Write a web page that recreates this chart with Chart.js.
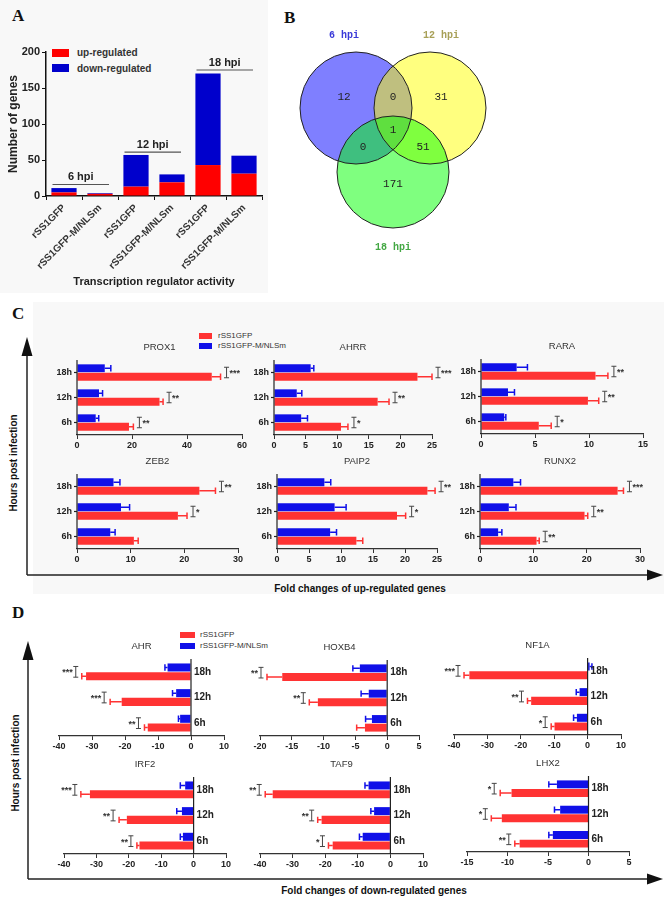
<!DOCTYPE html>
<html>
<head>
<meta charset="utf-8">
<script src="https://cdn.jsdelivr.net/npm/chart.js"></script>
<style>
body { margin: 0; background: #fff; }
#page { position: relative; width: 667px; height: 897px; overflow: hidden; font-family: "Liberation Sans", Arial, sans-serif; }
.abs { position: absolute; }
canvas { position: absolute; }
.letter { position: absolute; font: bold 17px "Liberation Serif", serif; line-height: 17px; color: #111; }
.ctr { position: absolute; transform: translate(-50%, -50%); white-space: nowrap; }
.axtitle { font-weight: bold; font-size: 10px; color: #111; }
.rot { transform: translate(-50%, -50%) rotate(-90deg); }
.leg { position: absolute; font-size: 8px; color: #333; white-space: nowrap; line-height: 8px; }
.legA { position: absolute; font-size: 10px; font-weight: bold; color: #333; white-space: nowrap; line-height: 10px; }
</style>
</head>
<body>
<div id="page">
  <div class="abs" style="left:0;top:0;width:268px;height:293px;background:#f8f8f8"></div>
  <div class="abs" style="left:33px;top:302px;width:631px;height:292px;background:#f8f8f8"></div>

  <div class="letter" style="left:12px;top:7px">A</div>
  <div class="letter" style="left:284px;top:9px">B</div>
  <div class="letter" style="left:12px;top:305px">C</div>
  <div class="letter" style="left:12px;top:604px">D</div>

  <div class="abs" style="left:52px;top:49px;width:17px;height:8px;background:#ff0000"></div>
  <div class="legA" style="left:77px;top:48px">up-regulated</div>
  <div class="abs" style="left:52px;top:64px;width:17px;height:8px;background:#0000cc"></div>
  <div class="legA" style="left:77px;top:64px">down-regulated</div>

  <div class="abs" style="left:199px;top:333px;width:13px;height:6px;background:#ff3333"></div>
  <div class="leg" style="left:218px;top:332px">rSS1GFP</div>
  <div class="abs" style="left:199px;top:343px;width:13px;height:6px;background:#1010e8"></div>
  <div class="leg" style="left:218px;top:342px">rSS1GFP-M/NLSm</div>

  <div class="abs" style="left:180px;top:632px;width:15px;height:6px;background:#ff3333"></div>
  <div class="leg" style="left:200px;top:631px">rSS1GFP</div>
  <div class="abs" style="left:180px;top:643px;width:15px;height:6px;background:#1010e8"></div>
  <div class="leg" style="left:200px;top:642px">rSS1GFP-M/NLSm</div>

  <div class="ctr axtitle rot" style="left:13px;top:463px">Hours post infection</div>
  <div class="ctr axtitle" style="left:360px;top:588px">Fold changes of up-regulated genes</div>
  <div class="ctr axtitle rot" style="left:15px;top:763px">Hours post infection</div>
  <div class="ctr axtitle" style="left:374px;top:890px">Fold changes of down-regulated genes</div>

  <svg class="abs" style="left:0;top:0" width="667" height="897">
    <g stroke="#222" stroke-width="1.5">
      <line x1="27" y1="575" x2="27" y2="352"/>
      <line x1="27" y1="575" x2="650" y2="575"/>
      <line x1="28" y1="879" x2="28" y2="656"/>
      <line x1="28" y1="879" x2="650" y2="879"/>
    </g>
    <g fill="#111">
      <polygon points="27,337 21.5,356 32.5,356"/>
      <polygon points="663,575 647,569.5 647,580.5"/>
      <polygon points="28,641 22.5,660 33.5,660"/>
      <polygon points="663,879 647,873.5 647,884.5"/>
    </g>
  </svg>
</div>
<script>
// Panel A: number of genes
const strainLabels = ['rSS1GFP', 'rSS1GFP-M/NLSm', 'rSS1GFP', 'rSS1GFP-M/NLSm', 'rSS1GFP', 'rSS1GFP-M/NLSm'];
const upCounts = [5, 3, 13, 19, 43, 31];
const downCounts = [6, 1, 44, 11, 127, 25];
const hpiGroups = ['6 hpi', '12 hpi', '18 hpi'];
const hpiLineLevels = [16, 61, 175];

// Panel B: venn
const vennSets = ['6 hpi', '12 hpi', '18 hpi'];
const vennCenters = [[-37, 32], [37, 32], [0, -32]];
const vennCounts = [12, 0, 31, 1, 0, 51, 171];
const vennCountPos = [[-49, 43], [0, 43], [48, 43], [0, 10], [-30, -7], [30, -7], [0, -44]];
const vennSetPos = [[-49, 105], [48, 105], [0, -107]];

// Panels C and D
const hourLabels = ['18h', '12h', '6h'];

const upGenes = ['PROX1', 'AHRR', 'RARA', 'ZEB2', 'PAIP2', 'RUNX2'];
const upRanges = [[0, 60, 20], [0, 25, 5], [0, 15, 5], [0, 30, 10], [0, 25, 5], [0, 30, 10]];
const upWild = [[49, 30, 18.9], [22.7, 16.4, 10.6], [10.6, 9.9, 5.35], [22.8, 18.8, 10.6], [23.5, 18.75, 12.4], [25.8, 19.6, 10.6]];
const upWildErr = [[3.2, 1.3, 1.6], [2.3, 1.8, 1.1], [1.15, 1.0, 1.15], [3.0, 1.7, 0.8], [1.2, 1.35, 1.0], [1.1, 0.6, 0.5]];
const upMutant = [[10.1, 8.0, 6.8], [5.8, 3.6, 4.3], [3.3, 2.5, 2.15], [6.8, 8.2, 6.2], [7.4, 9.0, 8.3], [6.25, 5.4, 3.4]];
const upMutantErr = [[2.2, 1.3, 1.1], [0.5, 0.8, 1.0], [1.0, 0.6, 0.15], [1.2, 1.6, 0.9], [1.0, 1.8, 1.0], [1.35, 1.35, 0.7]];
const upSig = [['***', '**', '**'], ['***', '**', '*'], ['**', '**', '*'], ['**', '*', ''], ['**', '*', ''], ['***', '**', '**']];

const downGenes = ['AHR', 'HOXB4', 'NF1A', 'IRF2', 'TAF9', 'LHX2'];
const downRanges = [[-40, 10, 10], [-20, 5, 5], [-40, 10, 10], [-40, 10, 10], [-40, 10, 10], [-15, 5, 5]];
const downWild = [[-31.8, -21, -13.1], [-16.5, -10.9, -3.5], [-35.4, -16.9, -9.9], [-32, -20.6, -16.7], [-36.1, -21.1, -17.7], [-9.5, -10.7, -8.5]];
const downWildErr = [[1.3, 3.5, 1.0], [2.4, 1.35, 1.3], [1.6, 1.1, 1.0], [2.8, 2.4, 0.8], [2.3, 1.2, 1.3], [1.4, 1.3, 0.6]];
const downMutant = [[-7.1, -4.5, -3.3], [-4.3, -2.9, -2.4], [0.6, -2.4, -3.2], [-2.6, -3.6, -3.3], [-6.7, -5.0, -8.5], [-3.9, -3.5, -4.4]];
const downMutantErr = [[0.8, 1.1, 0.5], [1.1, 1.2, 1.0], [0.7, 1.0, 1.0], [1.5, 1.6, 0.8], [1.1, 1.0, 1.0], [1.0, 0.7, 0.5]];
const downSig = [['***', '***', '**'], ['**', '**', ''], ['***', '**', '*'], ['***', '**', '**'], ['**', '**', '*'], ['*', '*', '**']];

// plot rectangles on the page [left, top, right, bottom]
const upBoxes = [[77, 360, 242, 435], [274, 360, 432, 435], [481, 359, 643, 434], [77, 474, 238, 549], [277, 474, 437, 549], [480, 474, 640, 549]];
const downBoxes = [[59, 659, 224, 736], [260, 660, 419, 736], [454, 658, 621, 735], [64, 777, 226, 854], [260, 777, 423, 854], [467, 776, 629, 852]];

const RED = '#ff3333';
const BLUE = '#1010e8';
const FONT = '"Liberation Sans", Arial, sans-serif';

Chart.defaults.font.family = FONT;
Chart.defaults.color = '#222';
Chart.defaults.animation = false;
Chart.defaults.responsive = false;
Chart.defaults.events = [];
Chart.defaults.plugins.legend.display = false;
Chart.defaults.plugins.tooltip.enabled = false;

function makeCanvas(left, top, w, h)
{
    const c = document.createElement('canvas');
    c.width = w;
    c.height = h;
    c.style.left = left + 'px';
    c.style.top = top + 'px';
    document.getElementById('page').appendChild(c);
    return c;
}

// ---- Panel A ----
const hpiLines = {
    id: 'hpiLines',
    afterDatasetsDraw(chart) {
        const {ctx, scales: {x, y}} = chart;
        ctx.save();
        hpiGroups.forEach((g, i) => {
            const x1 = x.getPixelForValue(2 * i) - 11.5;
            const x2 = x.getPixelForValue(2 * i + 1) + 9;
            const yy = y.getPixelForValue(hpiLineLevels[i]);
            ctx.strokeStyle = '#555';
            ctx.lineWidth = 1.2;
            ctx.beginPath();
            ctx.moveTo(x1, yy);
            ctx.lineTo(x2, yy);
            ctx.stroke();
            ctx.fillStyle = '#222';
            ctx.font = 'bold 11px ' + FONT;
            ctx.textAlign = 'center';
            ctx.textBaseline = 'bottom';
            ctx.fillText(g, (x1 + x2) / 2, yy - 2);
        });
        ctx.restore();
    }
};

new Chart(makeCanvas(0, 0, 268, 293), {
    type: 'bar',
    data: {
        labels: strainLabels,
        datasets: [
            { label: 'up-regulated', data: upCounts, backgroundColor: '#ff0000' },
            { label: 'down-regulated', data: downCounts, backgroundColor: '#0000cc' }
        ]
    },
    options: {
        layout: { padding: { left: 0, right: 6, top: 52, bottom: 0 } },
        datasets: { bar: { categoryPercentage: 0.7, barPercentage: 1 } },
        scales: {
            x: {
                stacked: true,
                grid: { drawOnChartArea: false, tickLength: 4, color: '#111' },
                border: { color: '#111', width: 1.5 },
                ticks: { autoSkip: false, minRotation: 45, maxRotation: 45, font: { size: 10, weight: 'bold' }, color: '#333', padding: 2 },
                title: { display: true, text: 'Transcription regulator activity', font: { size: 11, weight: 'bold' }, color: '#222' },
                afterFit: s => { s.height = 97; }
            },
            y: {
                stacked: true, min: 0, max: 200,
                ticks: { stepSize: 50, font: { size: 11, weight: 'bold' }, color: '#222', padding: 2 },
                grid: { drawOnChartArea: false, tickLength: 4, color: '#111' },
                border: { color: '#111', width: 1.5 },
                title: { display: true, text: 'Number of genes', font: { size: 12, weight: 'bold' }, color: '#222', padding: { top: 6, bottom: 4 } },
                afterFit: s => { s.width = 46; }
            }
        }
    },
    plugins: [hpiLines]
});

// ---- Panel B ----
const vennText = {
    id: 'vennText',
    afterDatasetsDraw(chart) {
        const {ctx, scales: {x, y}} = chart;
        ctx.save();
        ctx.textAlign = 'center';
        ctx.textBaseline = 'middle';
        ctx.font = '11px "Liberation Mono", monospace';
        ctx.fillStyle = '#222';
        vennCounts.forEach((n, i) => {
            ctx.fillText(String(n), x.getPixelForValue(vennCountPos[i][0]), y.getPixelForValue(vennCountPos[i][1]));
        });
        const setColors = ['#3a3ad8', '#a8a058', '#44a844'];
        ctx.font = 'bold 10px "Liberation Mono", monospace';
        vennSets.forEach((s, i) => {
            ctx.fillStyle = setColors[i];
            ctx.fillText(s, x.getPixelForValue(vennSetPos[i][0]), y.getPixelForValue(vennSetPos[i][1]));
        });
        ctx.restore();
    }
};

new Chart(makeCanvas(270, 0, 250, 292), {
    type: 'bubble',
    data: {
        datasets: [
            {
                data: vennCenters.map(c => ({ x: c[0], y: c[1], r: 56 })),
                backgroundColor: 'rgba(0,0,0,0)', borderColor: '#222', borderWidth: 1
            },
            {
                data: vennCenters.map(c => ({ x: c[0], y: c[1], r: 56 })),
                backgroundColor: ['rgba(0,0,255,0.5)', 'rgba(255,255,0,0.5)', 'rgba(0,255,0,0.5)'],
                borderWidth: 0
            }
        ]
    },
    options: {
        layout: { padding: 0, autoPadding: false },
        scales: {
            x: { display: false, min: -123, max: 127 },
            y: { display: false, min: -152, max: 140 }
        }
    },
    plugins: [vennText]
});

// ---- Panels C and D ----
function hbarChart(box, gene, range, wild, wildErr, mutant, mutantErr, sig, side)
{
    const padL = 42, padR = 45, padT = 24, axisH = 20;
    const canvas = makeCanvas(box[0] - padL, box[1] - padT,
        box[2] - box[0] + padL + padR, box[3] - box[1] + padT + axisH);

    const decor = {
        id: 'decor',
        afterDatasetsDraw(chart) {
            const {ctx, chartArea, scales: {x}} = chart;
            ctx.save();
            // error bars
            chart.data.datasets.forEach((ds, di) => {
                chart.getDatasetMeta(di).data.forEach((bar, i) => {
                    const v = ds.data[i];
                    const dir = v < 0 ? -1 : 1;
                    const x0 = x.getPixelForValue(v);
                    const x1 = x.getPixelForValue(v + dir * ds.errors[i]);
                    const h = bar.height * 0.4;
                    ctx.strokeStyle = ds.backgroundColor;
                    ctx.lineWidth = 1.5;
                    ctx.beginPath();
                    ctx.moveTo(x0, bar.y);
                    ctx.lineTo(x1, bar.y);
                    ctx.moveTo(x1, bar.y - h);
                    ctx.lineTo(x1, bar.y + h);
                    ctx.stroke();
                });
            });
            // significance brackets
            const blueBars = chart.getDatasetMeta(0).data;
            const redBars = chart.getDatasetMeta(1).data;
            ctx.font = 'bold 9px ' + FONT;
            ctx.textBaseline = 'middle';
            sig.forEach((s, i) => {
                if (!s)
                    return;
                const end = x.getPixelForValue(wild[i] + side * wildErr[i]);
                const xb = end + side * 6;
                const y1 = blueBars[i].y - 1, y2 = redBars[i].y + 1;
                ctx.strokeStyle = '#444';
                ctx.lineWidth = 1;
                ctx.beginPath();
                ctx.moveTo(xb, y1); ctx.lineTo(xb, y2);
                ctx.moveTo(xb - 2.5, y1); ctx.lineTo(xb + 2.5, y1);
                ctx.moveTo(xb - 2.5, y2); ctx.lineTo(xb + 2.5, y2);
                ctx.stroke();
                ctx.fillStyle = '#333';
                ctx.textAlign = side > 0 ? 'left' : 'right';
                ctx.fillText(s, xb + side * 3, (y1 + y2) / 2 + 1);
            });
            // category axis
            const x0 = x.getPixelForValue(0);
            ctx.strokeStyle = '#222';
            ctx.lineWidth = 1.2;
            ctx.beginPath();
            ctx.moveTo(x0, chartArea.top);
            ctx.lineTo(x0, chartArea.bottom);
            ctx.stroke();
            ctx.fillStyle = '#222';
            hourLabels.forEach((lab, i) => {
                const yc = (blueBars[i].y + redBars[i].y) / 2;
                if (side > 0) {
                    ctx.beginPath();
                    ctx.moveTo(x0 - 3, yc);
                    ctx.lineTo(x0, yc);
                    ctx.stroke();
                    ctx.font = 'bold 9px ' + FONT;
                    ctx.textAlign = 'right';
                    ctx.fillText(lab, x0 - 5, yc);
                } else {
                    ctx.font = 'bold 10px ' + FONT;
                    ctx.textAlign = 'left';
                    ctx.fillText(lab, x0 + 3, yc);
                }
            });
            // title
            ctx.font = '9.5px ' + FONT;
            ctx.fillStyle = '#333';
            ctx.textAlign = 'center';
            ctx.fillText(gene, (chartArea.left + chartArea.right) / 2, chartArea.top - 13);
            ctx.restore();
        }
    };

    new Chart(canvas, {
        type: 'bar',
        data: {
            labels: hourLabels,
            datasets: [
                { label: 'rSS1GFP-M/NLSm', data: mutant, errors: mutantErr, backgroundColor: BLUE },
                { label: 'rSS1GFP', data: wild, errors: wildErr, backgroundColor: RED }
            ]
        },
        options: {
            indexAxis: 'y',
            layout: { padding: { left: padL, right: padR, top: padT, bottom: 0 } },
            datasets: { bar: { categoryPercentage: 0.68, barPercentage: 0.92 } },
            scales: {
                x: {
                    min: range[0], max: range[1],
                    ticks: { stepSize: range[2], font: { size: 9, weight: 'bold' }, color: '#222', padding: 1 },
                    grid: { drawOnChartArea: false, tickLength: 4, color: '#333' },
                    border: { color: '#333', width: 1.2 },
                    afterFit: s => { s.height = axisH; }
                },
                y: { display: false }
            }
        },
        plugins: [decor]
    });
}

upGenes.forEach((g, i) => {
    hbarChart(upBoxes[i], g, upRanges[i], upWild[i], upWildErr[i], upMutant[i], upMutantErr[i], upSig[i], 1);
});
downGenes.forEach((g, i) => {
    hbarChart(downBoxes[i], g, downRanges[i], downWild[i], downWildErr[i], downMutant[i], downMutantErr[i], downSig[i], -1);
});
</script>
</body>
</html>
